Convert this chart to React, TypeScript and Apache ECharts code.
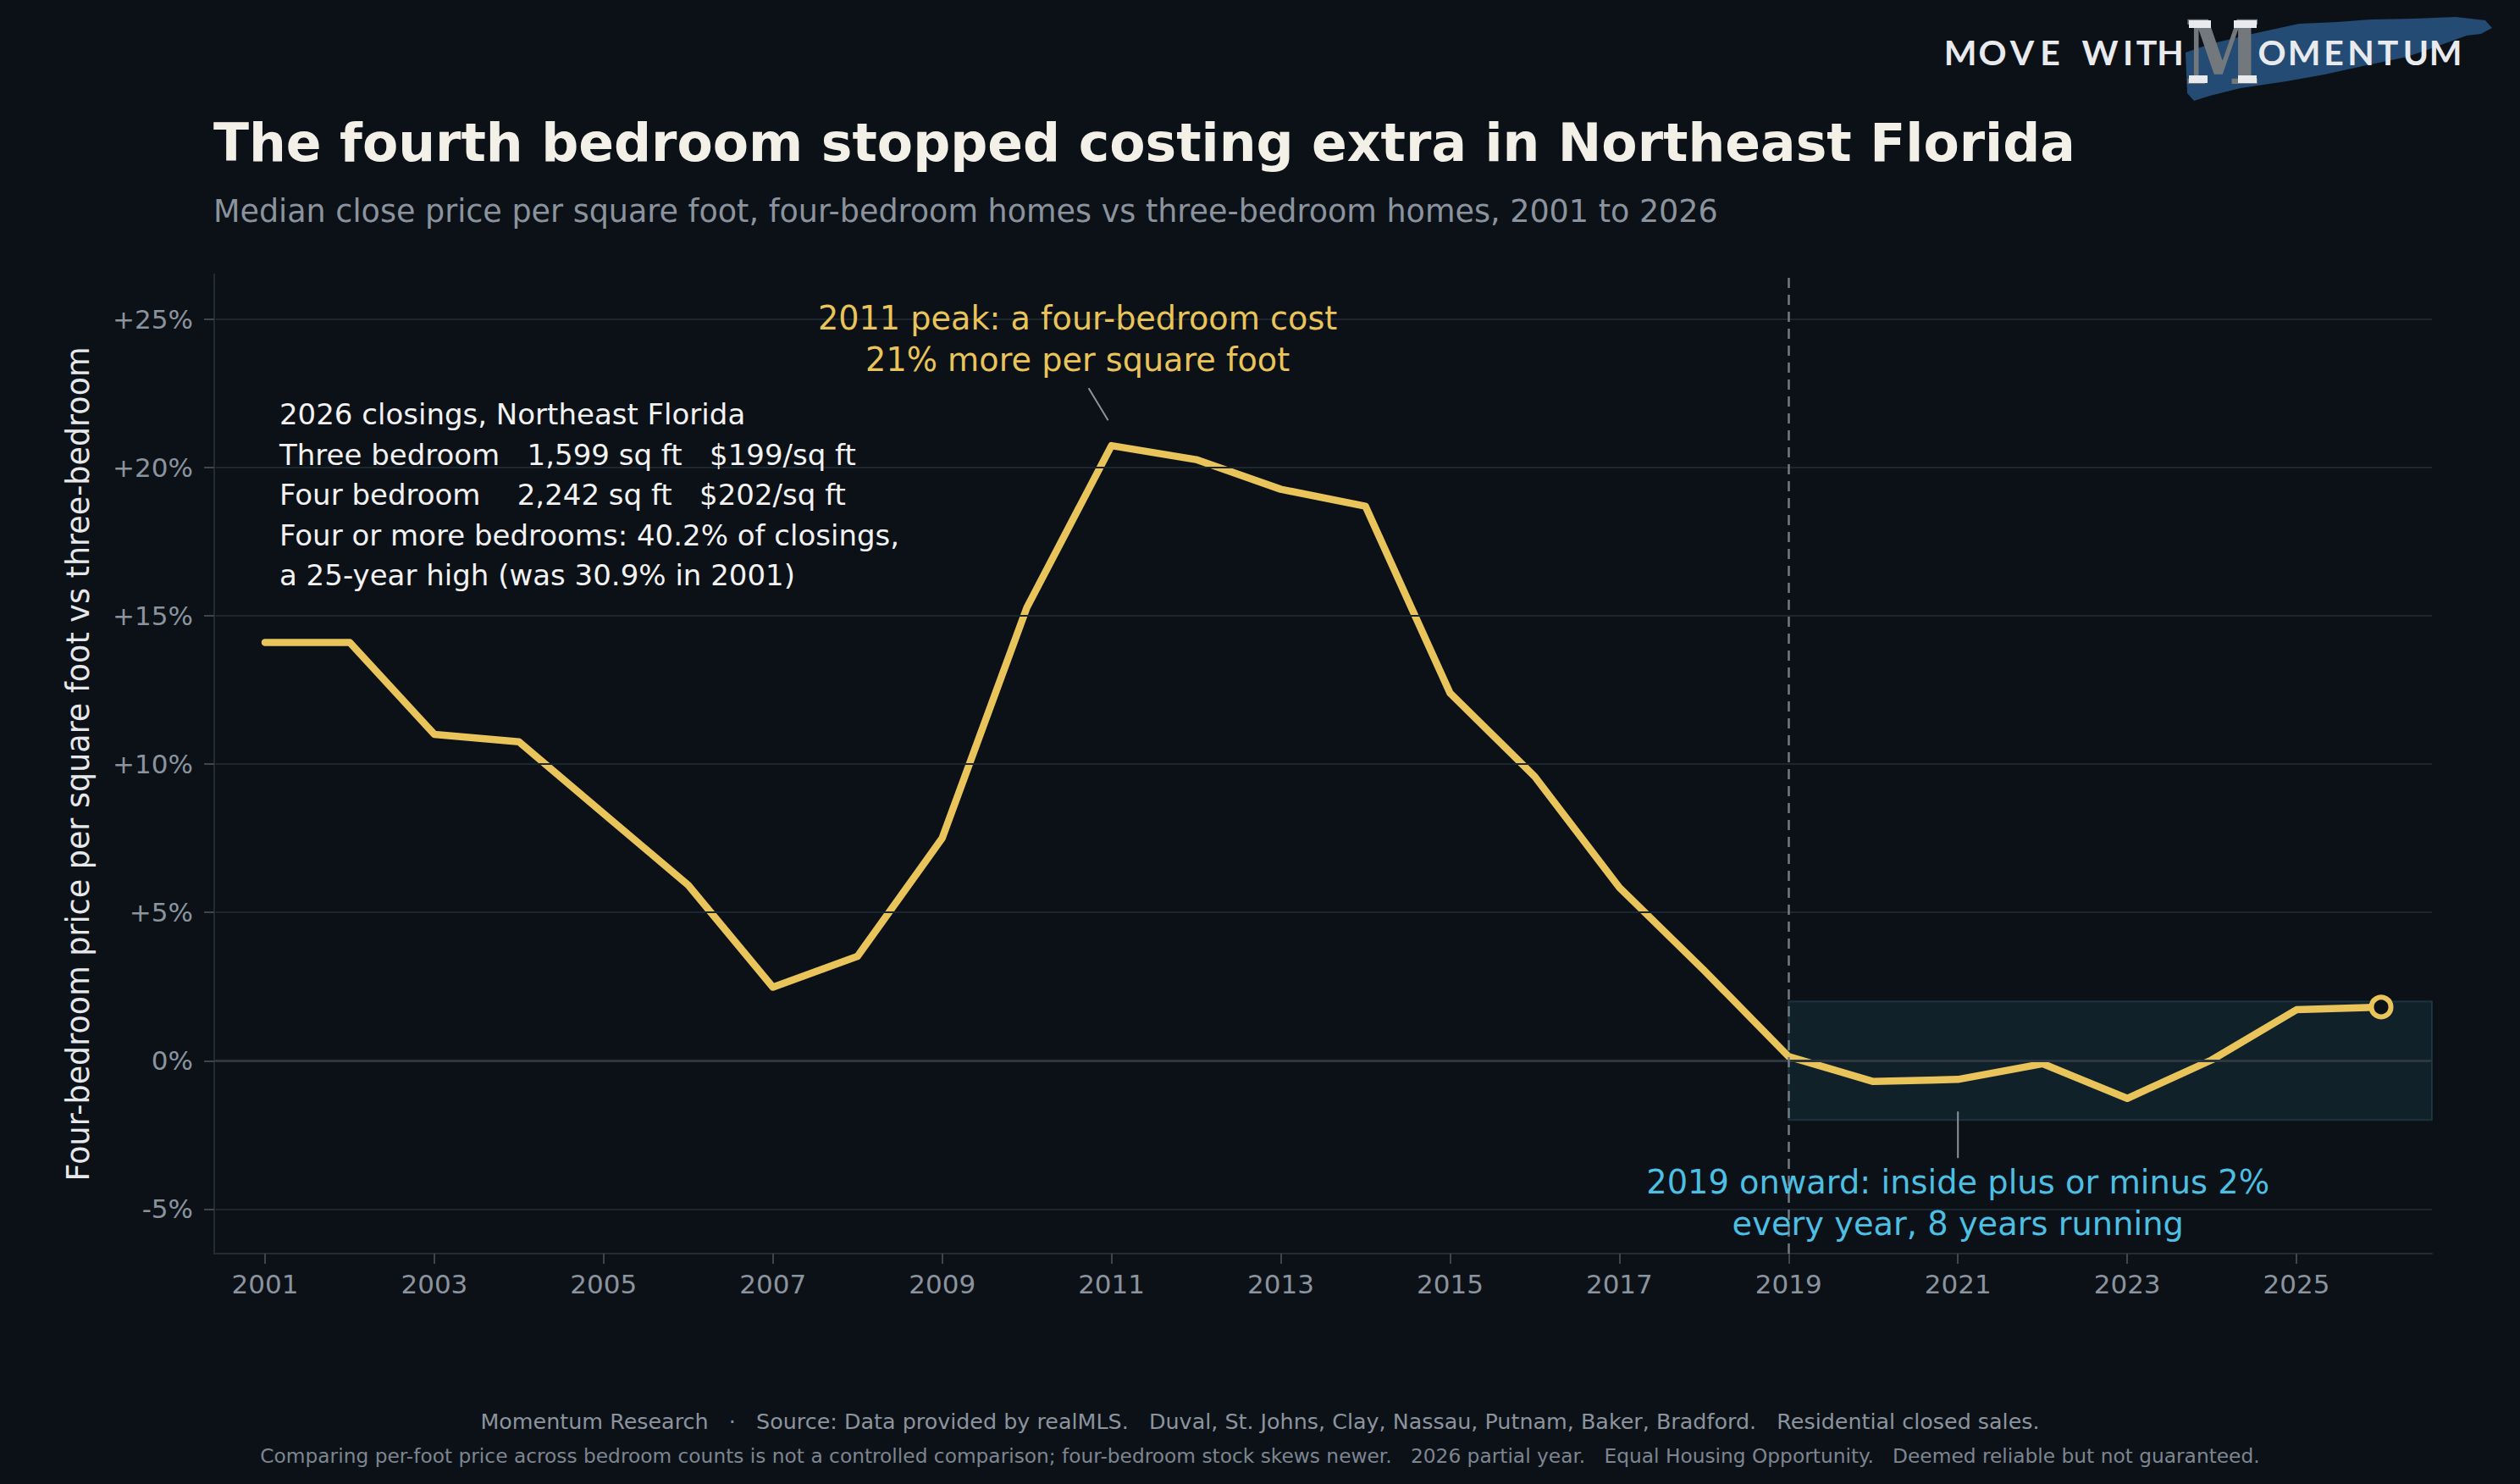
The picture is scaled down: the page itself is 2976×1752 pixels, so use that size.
import { useEffect, useRef } from "react";
import * as echarts from "echarts";

// premium of four-bedroom price per sq ft over three-bedroom, in percent
const years = [
  2001, 2002, 2003, 2004, 2005, 2006, 2007, 2008, 2009, 2010, 2011, 2012, 2013,
  2014, 2015, 2016, 2017, 2018, 2019, 2020, 2021, 2022, 2023, 2024, 2025, 2026,
];
const premium = [
  14.1, 14.1, 11.0, 10.75, 8.33, 5.92, 2.48, 3.52, 7.5, 15.27, 20.73, 20.26,
  19.26, 18.69, 12.39, 9.58, 5.84, 3.05, 0.14, -0.7, -0.63, -0.1, -1.27, 0.03,
  1.72, 1.81,
];
const yearTicks = [2001, 2003, 2005, 2007, 2009, 2011, 2013, 2015, 2017, 2019, 2021, 2023, 2025];
const pctTicks = [-5, 0, 5, 10, 15, 20, 25];
const bandStart = 2019;
const bandLimit = 2;

const title = "The fourth bedroom stopped costing extra in Northeast Florida";
const subtitle =
  "Median close price per square foot, four-bedroom homes vs three-bedroom homes, 2001 to 2026";
const yName = "Four-bedroom price per square foot vs three-bedroom";
const infoLines = [
  "2026 closings, Northeast Florida",
  "Three bedroom   1,599 sq ft   $199/sq ft",
  "Four bedroom    2,242 sq ft   $202/sq ft",
  "Four or more bedrooms: 40.2% of closings,",
  "a 25-year high (was 30.9% in 2001)",
];
const peakNote = "2011 peak: a four-bedroom cost\n21% more per square foot";
const bandNote = "2019 onward: inside plus or minus 2%\nevery year, 8 years running";
const footer1 =
  "Momentum Research   \u00b7   Source: Data provided by realMLS.   Duval, St. Johns, Clay, Nassau, Putnam, Baker, Bradford.   Residential closed sales.";
const footer2 =
  "Comparing per-foot price across bedroom counts is not a controlled comparison; four-bedroom stock skews newer.   2026 partial year.   Equal Housing Opportunity.   Deemed reliable but not guaranteed.";

const BG = "#0b1117";
const GOLD = "#e9c45a";
const BLUE = "#4cbfe2";
const MUTED = "#8b949e";
const FONT = "DejaVu Sans";

const logoLeft = ["M", "O", "V", "E", "W", "I", "T", "H"];
const logoLeftX = [2315, 2353, 2388, 2421, 2480, 2513, 2535, 2563];
const logoRight = ["O", "M", "E", "N", "T", "U", "M"];
const logoRightX = [2683, 2721, 2756, 2788, 2820, 2853, 2888];

function fmtPct(v: number) {
  return v > 0 ? `+${v}%` : `${v}%`;
}

function buildOption() {
  const data = years.map((y, i) => [y, premium[i]]);
  const last = data.length - 1;
  return {
    animation: false,
    backgroundColor: BG,
    grid: { left: 253, right: 104, top: 324, bottom: 272 },
    xAxis: {
      type: "value",
      min: 2000.4,
      max: 2026.6,
      axisLine: { show: true, onZero: false, lineStyle: { color: "#222c35", width: 2 } },
      axisTick: {
        show: true,
        length: 12,
        customValues: yearTicks,
        lineStyle: { color: "#3d4650", width: 2 },
      },
      axisLabel: {
        customValues: yearTicks,
        formatter: (v: number) => String(v),
        color: MUTED,
        fontSize: 31,
        fontFamily: FONT,
        margin: 20,
      },
      splitLine: { show: false },
    },
    yAxis: {
      type: "value",
      min: -6.5,
      max: 26.5,
      axisLine: { show: true, onZero: false, lineStyle: { color: "#222c35", width: 2 } },
      axisTick: {
        show: true,
        length: 12,
        customValues: pctTicks,
        lineStyle: { color: "#3d4650", width: 2 },
      },
      axisLabel: {
        customValues: pctTicks,
        formatter: fmtPct,
        color: MUTED,
        fontSize: 31,
        fontFamily: FONT,
        margin: 25,
      },
      splitLine: { show: false },
    },
    series: [
      {
        // gridlines and the 2019 divider
        type: "line",
        data: [],
        z: 1,
        silent: true,
        markLine: {
          silent: true,
          symbol: "none",
          label: { show: false },
          data: [
            ...pctTicks
              .filter((v) => v !== 0)
              .map((v) => ({ yAxis: v, lineStyle: { color: "#1c262f", width: 2, type: "solid" } })),
            { yAxis: 0, lineStyle: { color: "#2e373f", width: 3, type: "solid" } },
            { xAxis: bandStart, lineStyle: { color: "#737b84", width: 2.5, type: [12, 8] } },
          ],
        },
      },
      {
        type: "line",
        data,
        z: 3,
        lineStyle: { color: GOLD, width: 8.5, join: "round", cap: "round" },
        symbol: (_v: unknown, p: { dataIndex: number }) =>
          p.dataIndex === last ? "circle" : "none",
        symbolSize: 23,
        itemStyle: { color: BG, borderColor: GOLD, borderWidth: 6 },
        markArea: {
          silent: true,
          itemStyle: {
            color: "rgba(25,55,66,0.43)",
            borderColor: "rgba(45,85,100,0.45)",
            borderWidth: 2,
          },
          data: [[{ xAxis: bandStart, yAxis: -bandLimit }, { xAxis: 2026.6, yAxis: bandLimit }]],
        },
      },
    ],
  };
}

const App = () => {
  const ref = useRef<HTMLDivElement>(null);

  useEffect(() => {
    document.body.style.margin = "0";
    if (!ref.current) return;
    const chart = echarts.init(ref.current, null, { renderer: "svg" });
    chart.setOption(buildOption());

    const px = (x: number, y: number) => chart.convertToPixel({ gridIndex: 0 }, [x, y]) as number[];

    const peakAt = px(2010.6, 24.31);
    const peakA = px(2010.73, 22.67);
    const peakB = px(2010.96, 21.58);
    const bandAt = px(2021, -4.78);
    const bandA = px(2021, -1.71);
    const bandB = px(2021, -3.28);
    const infoAt = px(2001.17, 21.78);

    const text = (
      x: number,
      y: number,
      t: string,
      size: number,
      fill: string,
      align = "left",
      extra: Record<string, unknown> = {},
    ) => ({
      type: "text",
      x,
      y,
      z: 20,
      silent: true,
      style: {
        text: t,
        fill,
        fontSize: size,
        fontFamily: FONT,
        textAlign: align,
        textVerticalAlign: "middle",
        ...extra,
      },
    });

    const logoFont = { fontFamily: "Lato", fontWeight: 700 };

    chart.setOption({
      graphic: [
        text(252, 169, title, 61.6, "#f3f0e8", "left", { fontWeight: "bold" }),
        text(252, 249, subtitle, 36.5, MUTED),
        { ...text(92, 902, yName, 36.5, "#e6e8ea", "center"), rotation: Math.PI / 2 },
        ...infoLines.map((l, i) => text(infoAt[0], infoAt[1] + i * 47.5, l, 34, "#f2f2f2")),
        text(peakAt[0], peakAt[1], peakNote, 38.2, GOLD, "center", { lineHeight: 49 }),
        {
          type: "line",
          silent: true,
          z: 20,
          shape: { x1: peakA[0], y1: peakA[1], x2: peakB[0], y2: peakB[1] },
          style: { stroke: MUTED, lineWidth: 2 },
        },
        text(bandAt[0], bandAt[1], bandNote, 38.4, BLUE, "center", { lineHeight: 49 }),
        {
          type: "line",
          silent: true,
          z: 20,
          shape: { x1: bandA[0], y1: bandA[1], x2: bandB[0], y2: bandB[1] },
          style: { stroke: MUTED, lineWidth: 2 },
        },
        text(1488, 1678, footer1, 25.4, MUTED, "center"),
        text(1488, 1718, footer2, 23.3, "#7d8590", "center"),
        // logo
        {
          type: "polygon",
          silent: true,
          z: 18,
          shape: {
            points: [
              [2581, 62], [2610, 52], [2660, 40], [2715, 28], [2760, 26], [2800, 23],
              [2850, 22], [2900, 20], [2935, 24], [2943, 33], [2930, 40], [2913, 42],
              [2880, 54], [2843, 67], [2800, 76], [2745, 88], [2700, 96], [2646, 104],
              [2610, 113], [2591, 119], [2583, 110],
            ],
          },
          style: { fill: "#244b73" },
        },
        {
          type: "text",
          silent: true,
          z: 19,
          x: 2625,
          y: 62,
          scaleX: 0.78,
          style: {
            text: "M",
            fill: "#73787d",
            fontSize: 104,
            fontFamily: "DejaVu Serif",
            fontWeight: "bold",
            textAlign: "center",
            textVerticalAlign: "middle",
          },
        },
        { type: "rect", silent: true, z: 20, shape: { x: 2585, y: 24, width: 26, height: 9 }, style: { fill: "#e8eaed" } },
        { type: "rect", silent: true, z: 20, shape: { x: 2638, y: 24, width: 27, height: 9 }, style: { fill: "#e8eaed" } },
        { type: "rect", silent: true, z: 20, shape: { x: 2585, y: 89, width: 22, height: 9 }, style: { fill: "#e8eaed" } },
        { type: "rect", silent: true, z: 20, shape: { x: 2643, y: 89, width: 22, height: 9 }, style: { fill: "#e8eaed" } },
        ...logoLeft.map((c, i) => text(logoLeftX[i], 61, c, 41, "#e8eaed", "center", logoFont)),
        ...logoRight.map((c, i) => text(logoRightX[i], 61, c, 41, "#e8eaed", "center", logoFont)),
      ],
    });

    return () => chart.dispose();
  }, []);

  return (
    <div
      ref={ref}
      style={{ position: "absolute", left: 0, top: 0, width: 2976, height: 1752, background: BG }}
    />
  );
};

export default App;
